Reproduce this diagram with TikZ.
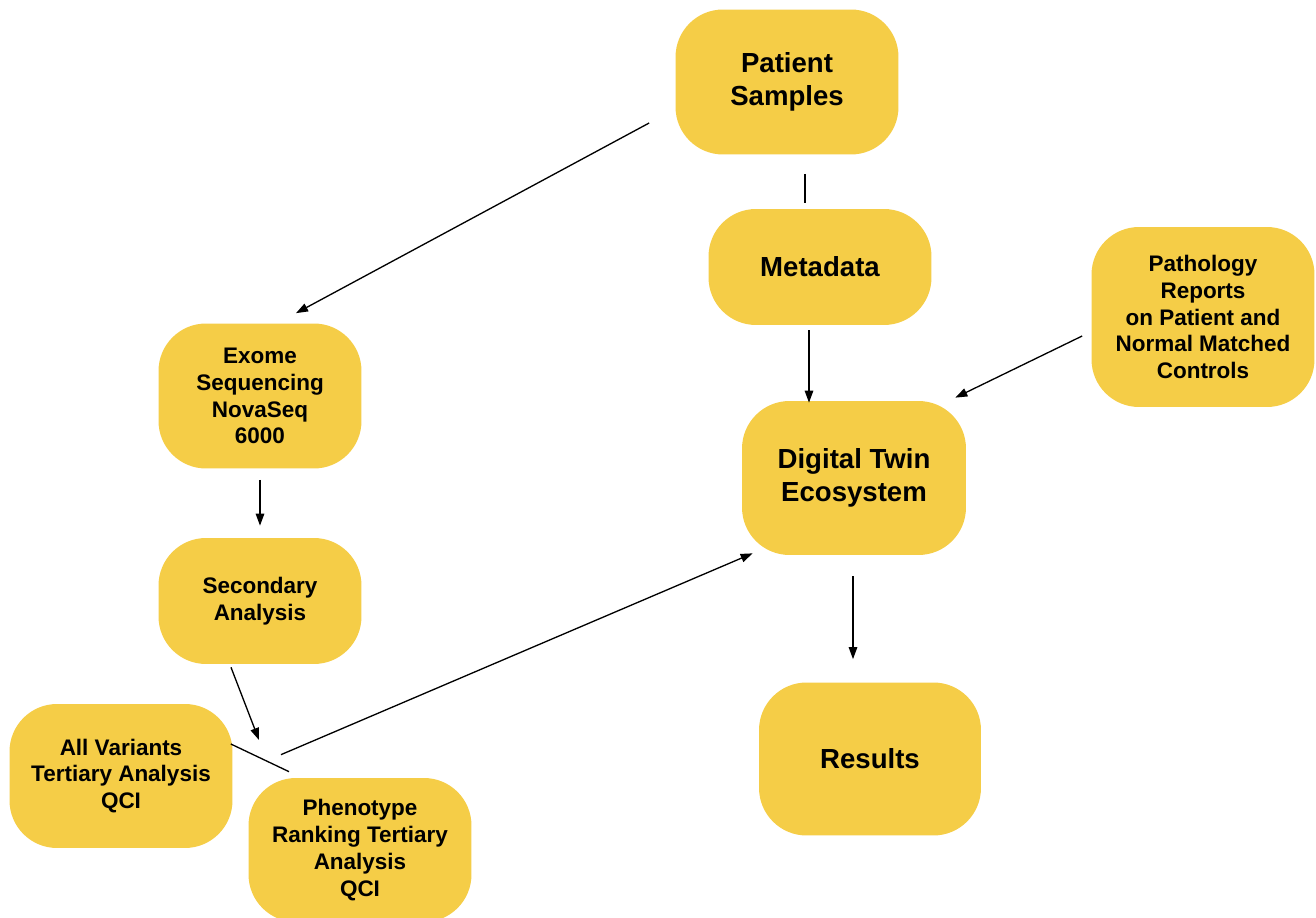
\documentclass[tikz,border=0pt]{standalone}
\usepackage{fontspec}
\setmainfont{Liberation Sans}
\usetikzlibrary{arrows.meta,calc}
\definecolor{boxyellow}{HTML}{F5CD47}
\tikzset{
	box/.style={fill=boxyellow, rounded corners=0.95cm, align=center, inner sep=0pt},
	bigtext/.style={font=\fontsize{15.7}{18.7}\selectfont\bfseries},
	smalltext/.style={font=\fontsize{12.8}{15.3}\selectfont\bfseries},
	arr/.style={-{Triangle[length=0.24cm,width=0.17cm]}, line width=0.75pt},
	ln/.style={line width=0.75pt}
}

\begin{document}
\begin{tikzpicture}[x=0.02cm, y=-0.02cm]
		%%%%% START %%%%%
		\useasboundingbox (0, 0) rectangle (1316, 918);
		
		\node[box, bigtext, minimum width=4.46cm, minimum height=2.9cm] (ps) at (787, 82) {Patient\\Samples};
		\node[box, bigtext, minimum width=4.46cm, minimum height=2.32cm] (md) at (820, 267) {Metadata};
		\node[box, smalltext, minimum width=4.46cm, minimum height=3.6cm] (pr) at (1203, 317) {Pathology\\Reports\\on Patient and\\Normal Matched\\Controls};
		\node[box, smalltext, minimum width=4.06cm, minimum height=2.9cm] (ex) at (260, 396) {Exome\\Sequencing\\NovaSeq\\6000};
		\node[box, bigtext, minimum width=4.48cm, minimum height=3.08cm] (dt) at (854, 478) {Digital Twin\\Ecosystem};
		\node[box, smalltext, minimum width=4.06cm, minimum height=2.52cm] (sa) at (260, 601) {Secondary\\Analysis};
		\node[box, bigtext, minimum width=4.44cm, minimum height=3.06cm] (rs) at (870, 759) {Results};
		\node[box, smalltext, minimum width=4.46cm, minimum height=2.88cm] (av) at (121, 776) {All Variants\\Tertiary Analysis\\QCI};
		\node[box, smalltext, minimum width=4.46cm, minimum height=2.88cm] (ph) at (360, 850) {Phenotype\\Ranking Tertiary\\Analysis\\QCI};
		
		\coordinate (jn) at (259, 740);
		
		\draw[arr] ([shift={(-26, 41)}]ps.west) -- ([shift={(36, -10)}]ex.north);
		\draw[ln] ([shift={(18, 19)}]ps.south) -- ([shift={(-15, -6)}]md.north);
		\draw[arr] ([shift={(-11, 5)}]md.south) -- ([shift={(-45, 2)}]dt.north);
		\draw[arr] ([shift={(-9, 19)}]pr.west) -- ([shift={(-11, -3)}]dt.north east);
		\draw[arr] ([shift={(0, 11)}]ex.south) -- ([shift={(0, -12)}]sa.north);
		\draw[arr] ([shift={(-29, 3)}]sa.south) -- (jn);
		\draw[ln] ([shift={(-2, -32)}]av.east) -- ([shift={(-71, -6)}]ph.north);
		\draw[arr] ([shift={(-79, -23)}]ph.north) -- ([shift={(11, -2)}]dt.south west);
		\draw[arr] ([shift={(-1, 21)}]dt.south) -- ([shift={(-17, -23)}]rs.north);
		
		%%%%% END %%%%%
\end{tikzpicture}
\end{document}
